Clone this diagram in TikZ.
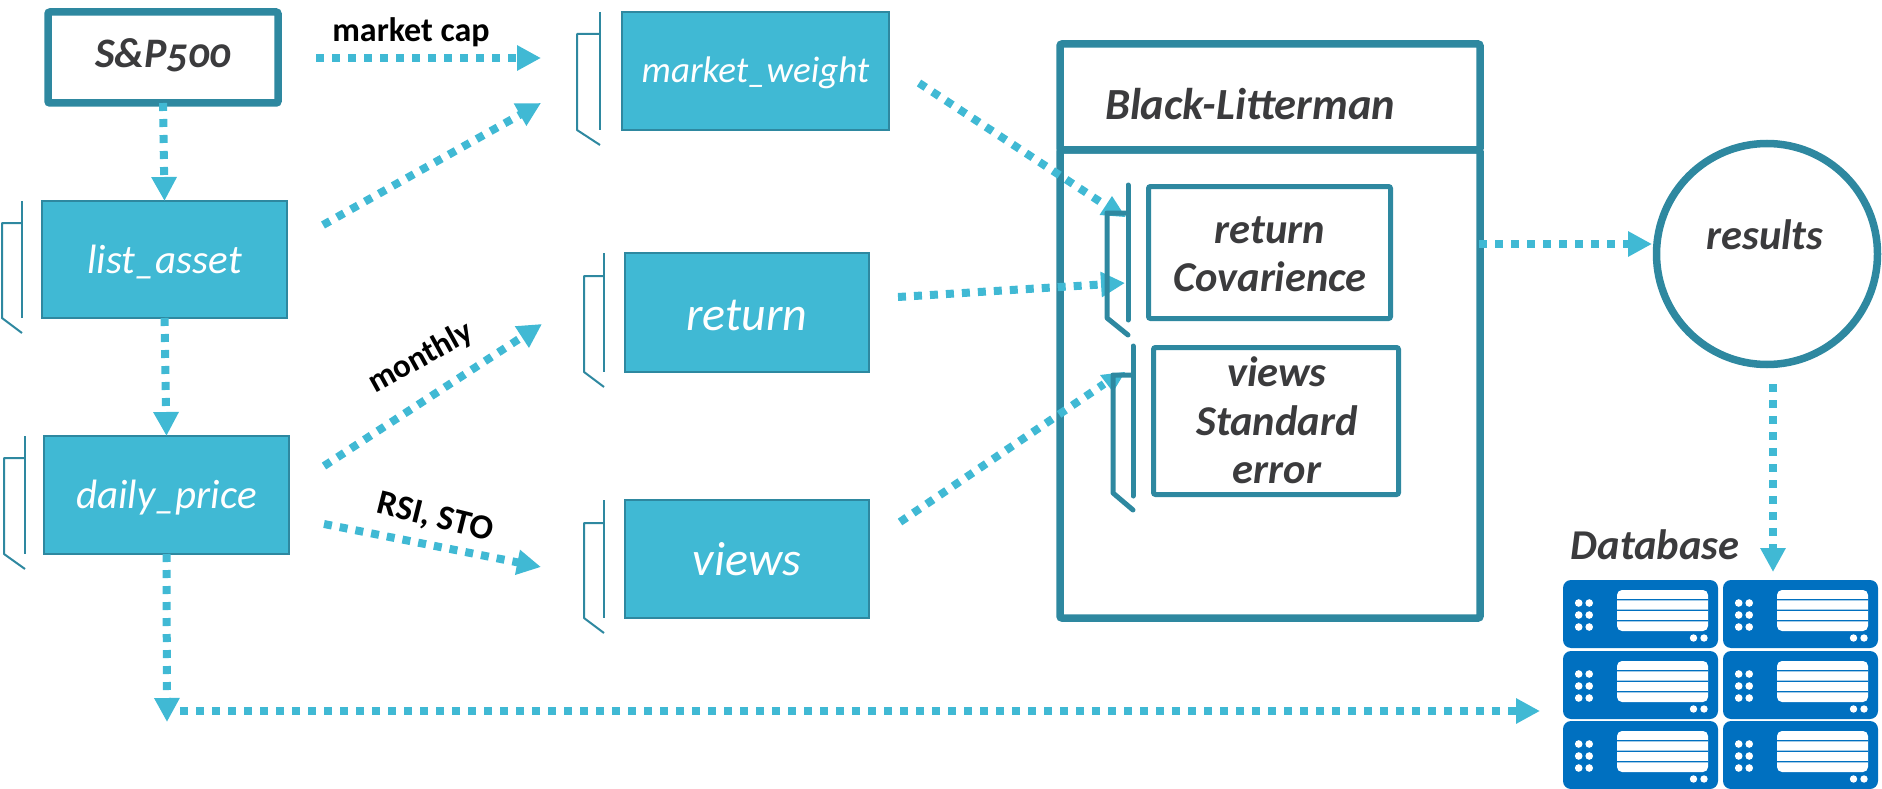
\documentclass[tikz,border=0pt]{standalone}
\usepackage{fontspec}
\setmainfont{Carlito}
\usetikzlibrary{arrows.meta}
\definecolor{teal}{HTML}{2E88A0}
\definecolor{sky}{HTML}{40B9D4}
\definecolor{ink}{HTML}{3B3B3D}
\definecolor{srv}{HTML}{0070C0}
\newcommand{\fs}[1]{\fontsize{#1}{#1}\selectfont}
\tikzset{
  x=1pt,y=-1pt,
  filled/.style={draw=teal,fill=sky,line width=2pt,inner sep=0,outer sep=0,text=white,font=\itshape\fs{41}},
  outlined/.style={draw=teal,fill=white,line width=7.5pt,rounded corners=2pt,inner sep=0,outer sep=0,text=ink,font=\bfseries\itshape\fs{42}},
  inner/.style={draw=teal,fill=white,line width=5pt,rounded corners=2pt,inner sep=0,outer sep=0},
  dark/.style={text=ink,font=\bfseries\itshape\fs{42.5},inner sep=0},
  tag/.style={text=black,font=\bfseries\fs{34},inner sep=0},
  flow/.style={draw=sky,line width=8pt,dash pattern=on 8pt off 8pt},
  arrowed/.style={flow,-{Triangle[width=24pt,length=24pt]}},
  headfill/.style={fill=sky},
  thinb/.style={draw=teal,line width=2pt,line join=round},
  thickb/.style={draw=teal,line width=5pt,line join=round,line cap=round},
  drop/.style={text height=#1,text depth=0pt},
}
\newcommand{\bracket}[7]{% right x, left x, top, bar y, right bottom, left bottom, style
  \draw[#7] (#1,#3) -- (#1,#5);
  \draw[#7] (#1,#4) -- (#2,#4) -- (#2,#6) -- (#1,\diagend);
}
\newcommand{\srvunit}[2]{%
  \begin{scope}[shift={(#1,#2)}]
    \fill[srv,rounded corners=8pt] (0,0) rectangle (155,68);
    \fill[white,rounded corners=5pt] (54,10) rectangle (145,51);
    \fill[srv] (54,19) rectangle (145,20.4) (54,29.5) rectangle (145,30.9) (54,40) rectangle (145,41.4);
    \foreach \px in {15.7,26.2}\foreach \py in {23,35,47}\fill[white] (\px,\py) circle[radius=3.8pt];
    \foreach \px in {130.5,141}\fill[white] (\px,58) circle[radius=3.7pt];
  \end{scope}}
\begin{document}
\begin{tikzpicture}
\useasboundingbox (0,0) rectangle (1882,789);
% Black-Litterman frame
\node[outlined,minimum width=420pt,minimum height=106pt] (blhead) at (1270,97) {};
\node[outlined,minimum width=420pt,minimum height=468pt,fill=none] (blbody) at (1270,384) {};
\node[dark,font=\bfseries\itshape\fs{44.5}] (bltext) at (1250,104) {Black-Litterman};
% boxes
\node[outlined,minimum width=230pt,minimum height=91pt,drop=21pt] (sp) at (163,57.5) {\addfontfeature{Numbers=OldStyle}S\&P500};
\node[filled,minimum width=245pt,minimum height=117pt,drop=27pt] (list) at (164.5,259.5) {list\_asset};
\node[filled,minimum width=245pt,minimum height=118pt,drop=26pt] (daily) at (166.5,495) {daily\_price};
\node[filled,minimum width=267pt,minimum height=118pt,font=\itshape\fs{37},drop=24pt] (mw) at (755.5,71) {market\_weight};
\node[filled,minimum width=244pt,minimum height=119pt,font=\itshape\fs{48},drop=35pt] (ret) at (747,312.5) {return};
\node[filled,minimum width=244pt,minimum height=118pt,font=\itshape\fs{48},drop=32pt] (views) at (747,559) {views};
\node[inner,minimum width=242pt,minimum height=132pt] (rc) at (1269.5,252.5) {};
\node[dark] (rc1) at (1270,230) {return};
\node[dark] (rc2) at (1270,277) {Covarience};
\node[inner,minimum width=245pt,minimum height=147pt] (vs) at (1276,421) {};
\node[dark] (vs1) at (1277,372) {views};
\node[dark] (vs2) at (1277,421) {Standard};
\node[dark] (vs3) at (1277,473) {error};
\node[draw=teal,fill=white,line width=7.5pt,circle,inner sep=0,outer sep=0,minimum size=221pt] (res) at (1767,254) {};
\node[dark] (restext) at (1765,235) {results};
\node[dark] (dbtext) at (1655,545) {Database};
% tags
\node[tag] (t1) at (411,32) {market cap};
\node[tag,rotate=29,font=\bfseries\fs{33}] (t2) at (421,358) {monthly};
\node[tag,rotate=-14,font=\bfseries\fs{35}] (t3) at (435,518) {RSI, STO};
% free connector ends
\coordinate (a1) at (316,58); \coordinate (a1e) at (541,58);
\coordinate (a2) at (323,225); \coordinate (a2e) at (541,103);
\coordinate (a3) at (324,466); \coordinate (a3e) at (542,324);
\coordinate (a4) at (324,524); \coordinate (a4e) at (541,567);
\coordinate (a5) at (919,83); \coordinate (a5e) at (1102,203);
\coordinate (a6) at (898,297); \coordinate (a6e) at (1125,283);
\coordinate (a7) at (900,522); \coordinate (a7e) at (1104,384);
\coordinate (a8) at (1479,244); \coordinate (a8e) at (1652,244);
\coordinate (a9) at (1773,384); \coordinate (a9e) at (1773,572);
\coordinate (a10) at (167,722);
\coordinate (a11) at (180,711); \coordinate (a11e) at (1540,711);
% connectors
\draw[arrowed] (sp.south) -- (list.north);
\draw[arrowed] (list.south) -- (daily.north);
\draw[arrowed] (daily.south) -- (a10);
\draw[arrowed] (a11) -- (a11e);
\draw[arrowed] (a1) -- (a1e);
\draw[arrowed] (a2) -- (a2e);
\draw[arrowed] (a3) -- (a3e);
\draw[arrowed] (a4) -- (a4e);
\draw[flow] (a5) -- (a5e);
\fill[headfill] (1112,196) -- (1099.5,215) -- (1125.5,217) -- cycle;
\draw[arrowed] (a6) -- (a6e);
\draw[flow] (a7) -- (a7e);
\fill[headfill] (1100,375) -- (1125,372) -- (1113,392) -- cycle;
\draw[arrowed] (a8) -- (a8e);
\draw[arrowed] (a9) -- (a9e);
% brackets
\def\diagend{333}\bracket{22}{2}{201}{223}{318}{318}{thinb}
\def\diagend{569}\bracket{25}{4}{436}{458}{554}{554}{thinb}
\def\diagend{145}\bracket{600}{577}{12}{34}{130}{130}{thinb}
\def\diagend{387}\bracket{604}{584}{253}{276}{372}{372}{thinb}
\def\diagend{633}\bracket{604}{584}{500}{523}{618}{618}{thinb}
\def\diagend{335}\bracket{1128}{1107}{185}{213}{320}{318}{thickb}
\def\diagend{510}\bracket{1133}{1113}{346}{375}{496}{493}{thickb}
% database
\srvunit{1563}{580}\srvunit{1723}{580}
\srvunit{1563}{651}\srvunit{1723}{651}
\srvunit{1563}{721}\srvunit{1723}{721}
\end{tikzpicture}
\end{document}
